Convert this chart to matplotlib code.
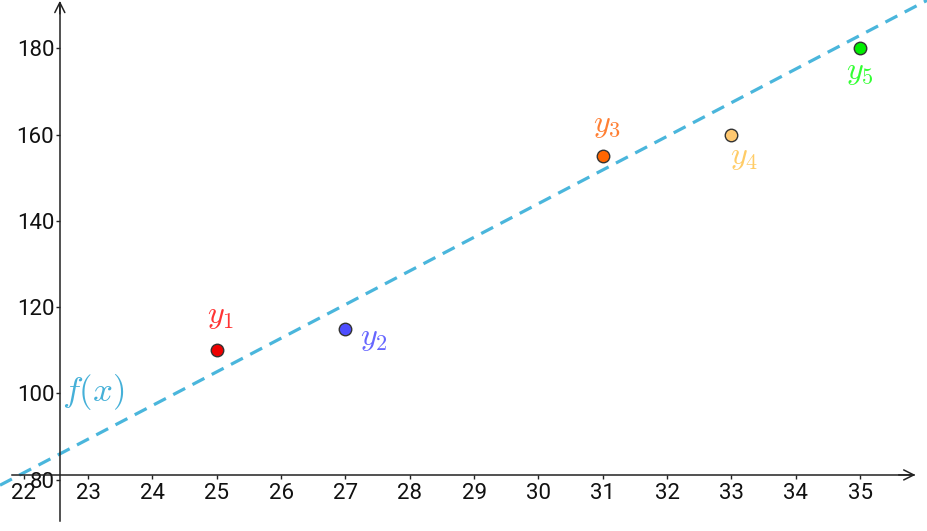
import matplotlib.pyplot as plt

# data points
xs = [25, 27, 31, 33, 35]
ys = [110, 115, 155, 160, 180]
names = ['$y_1$', '$y_2$', '$y_3$', '$y_4$', '$y_5$']
face_colors = ['#ee0000', '#4d4dff', '#ff6600', '#ffc870', '#00ee00']
label_colors = ['#ff3333', '#6666ff', '#ff7f33', '#ffcc66', '#33ff33']
# label offsets in pixels from each point
label_offsets = [(4, 34), (28, -10), (4, 31), (13, -23), (0, -24)]

# fitted line f(x) = a*x + b
slope = 7.8
intercept = -90.0

x_ticks = list(range(22, 36))
y_ticks = [80, 100, 120, 140, 160, 180]

plt.rcParams['mathtext.fontset'] = 'cm'
plt.rcParams['font.family'] = ['Roboto', 'DejaVu Sans']

fig = plt.figure(figsize=(9.27, 5.31), dpi=100)
ax = fig.add_axes([0, 0, 1, 1])
x_min, x_max = 21.63, 36.04
y_min, y_max = 68.1, 191.2
ax.set_xlim(x_min, x_max)
ax.set_ylim(y_min, y_max)

# axes crossing
x_cross = 22.56
y_cross = 81.1
for s in ['top', 'right']:
    ax.spines[s].set_visible(False)
ax.spines['left'].set_position(('data', x_cross))
ax.spines['bottom'].set_position(('data', y_cross))
ax.spines['left'].set_bounds(70.5, 190.5)
ax.spines['bottom'].set_bounds(21.82, 35.84)
for s in ['left', 'bottom']:
    ax.spines[s].set_color('#222222')
    ax.spines[s].set_linewidth(1.1)

# arrow heads
ax.annotate('', xy=(x_cross, 191.0), xytext=(x_cross, 188.0),
            arrowprops=dict(arrowstyle='->', color='#222222', lw=1.1,
                            mutation_scale=18, shrinkA=0, shrinkB=0))
ax.annotate('', xy=(35.86, y_cross), xytext=(35.6, y_cross),
            arrowprops=dict(arrowstyle='->', color='#222222', lw=1.1,
                            mutation_scale=18, shrinkA=0, shrinkB=0))

ax.set_xticks(x_ticks)
ax.set_yticks(y_ticks)
ax.set_xticklabels([str(t) for t in x_ticks])
ax.set_yticklabels([str(t) for t in y_ticks])
ax.tick_params(axis='both', direction='out', length=3, width=1,
               color='#222222', labelcolor='#111111', labelsize=16)
ax.tick_params(axis='x', pad=3)
ax.tick_params(axis='y', pad=1)

# dashed line f(x)
line_x = [x_min, x_max]
line_y = [slope * v + intercept for v in line_x]
ax.plot(line_x, line_y, color='#4ab6dc', lw=2.3, dashes=(4.2, 2.6), zorder=2)
ax.text(x_cross + 0.03, 100.3, '$f(x)$', color='#45b0d8', fontsize=25,
        ha='left', va='center')

# points and labels
for x, y, n, fc, lc, off in zip(xs, ys, names, face_colors, label_colors,
                                 label_offsets):
    ax.plot(x, y, 'o', ms=9, mfc=fc, mec='#333333', mew=1, zorder=4)
    ax.annotate(n, (x, y), xytext=off, textcoords='offset pixels',
                color=lc, fontsize=23, ha='center', va='center')

fig.savefig('out.png', dpi=100)
